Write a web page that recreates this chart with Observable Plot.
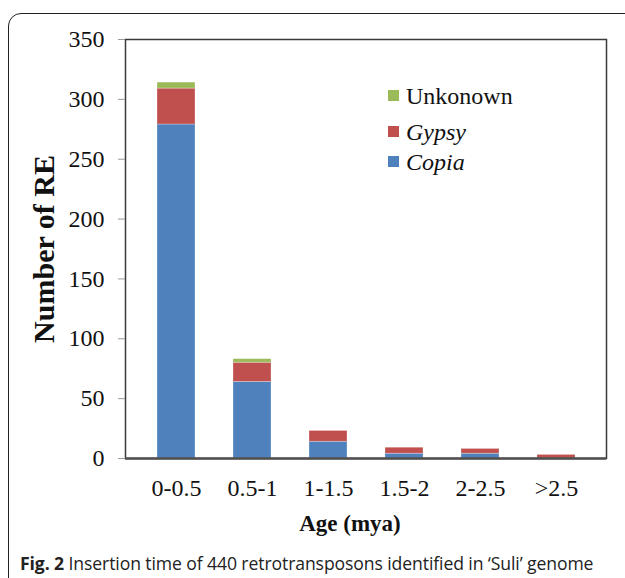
<!DOCTYPE html>
<html>
<head>
<meta charset="utf-8">
<script src="https://cdn.jsdelivr.net/npm/d3@7"></script>
<script src="https://cdn.jsdelivr.net/npm/@observablehq/plot@0.6"></script>
<style>
  html, body { margin: 0; padding: 0; background: #fff; }
  body { width: 625px; height: 578px; overflow: hidden; position: relative; }
  #box { position: absolute; left: 8px; top: 13px; width: 680px; height: 640px;
         border: 1.5px solid #222; border-radius: 13px; box-sizing: border-box; }
  #chart { position: absolute; left: 0; top: 0; }
  #legend { position: absolute; left: 388px; top: 80px; font-family: "Liberation Serif", serif; font-size: 24px; color: #111; }
  .item { position: absolute; left: 0; white-space: nowrap; }
  .sw { position: absolute; left: 0; width: 11px; height: 11px; }
  .lab { position: absolute; left: 18px; line-height: 1; }
  #caption { position: absolute; left: 20px; top: 551px; font-family: "Open Sans", sans-serif; font-size: 17.6px; color: #222; white-space: nowrap; letter-spacing: -0.1px; }
  #caption b { font-weight: 700; }
</style>
</head>
<body>
<div id="box"></div>
<div id="chart"></div>
<div id="legend"></div>
<div id="caption"><b>Fig. 2</b> Insertion time of 440 retrotransposons identified in ‘Suli’ genome</div>
<script>
const ages = ["0-0.5", "0.5-1", "1-1.5", "1.5-2", "2-2.5", ">2.5"];
const copia = [279, 64, 14, 4, 4, 0];
const gypsy = [30, 16, 9, 5, 4, 3];
const unknown = [5, 3, 0, 0, 0, 0];
const seriesNames = ["Copia", "Gypsy", "Unkonown"];
const seriesColors = ["#4F81BD", "#C0504D", "#9BBB59"];
const yTicks = [0, 50, 100, 150, 200, 250, 300, 350];

const rows = [];
ages.forEach((a, i) => {
  rows.push({age: a, series: "Copia", value: copia[i]});
  rows.push({age: a, series: "Gypsy", value: gypsy[i]});
  rows.push({age: a, series: "Unkonown", value: unknown[i]});
});

const chart = Plot.plot({
  width: 625,
  height: 545,
  marginLeft: 125,
  marginRight: 19,
  marginTop: 39,
  marginBottom: 87,
  style: {fontFamily: "Liberation Serif, serif", fontSize: "24px", color: "#111", background: "transparent"},
  x: {domain: ages, paddingInner: 0.5, paddingOuter: 0.38, label: null},
  y: {domain: [0, 350], label: null},
  color: {domain: seriesNames, range: seriesColors},
  marks: [
    Plot.barY(rows, {x: "age", y: "value", fill: "series", stroke: "#ffffff", strokeOpacity: 0.35, strokeWidth: 0.8}),
    Plot.frame({stroke: "#3a3a3a", strokeWidth: 1.5}),
    Plot.ruleY([0], {stroke: "#505050", strokeWidth: 2.5}),
    Plot.axisY(yTicks, {tickSize: 7, tickPadding: 14, stroke: "#999", fontSize: 24, label: null}),
    Plot.axisX({tickSize: 0, tickPadding: 20, fontSize: 24, label: null}),
    Plot.text(["Number of RE"], {frameAnchor: "left", rotate: -90, dx: -81, fontSize: 30, fontWeight: "bold", textAnchor: "middle", lineAnchor: "middle"}),
    Plot.text(["Age (mya)"], {frameAnchor: "bottom", dx: -16, dy: 65, fontSize: 23, fontWeight: "bold", textAnchor: "middle", lineAnchor: "middle"})
  ]
});
document.getElementById("chart").appendChild(chart);

// legend (top-to-bottom: Unknown, Gypsy, Copia)
const legend = document.getElementById("legend");
const order = [2, 1, 0];
const tops = [10, 46, 76];
order.forEach((k, j) => {
  const it = document.createElement("div");
  it.className = "item";
  it.style.top = tops[j] + "px";
  const sw = document.createElement("div");
  sw.className = "sw";
  sw.style.background = seriesColors[k];
  sw.style.top = "0px";
  const lb = document.createElement("div");
  lb.className = "lab";
  lb.textContent = seriesNames[k];
  lb.style.top = "-6px";
  if (k !== 2) lb.style.fontStyle = "italic";
  it.appendChild(sw); it.appendChild(lb);
  legend.appendChild(it);
});
</script>
</body>
</html>
